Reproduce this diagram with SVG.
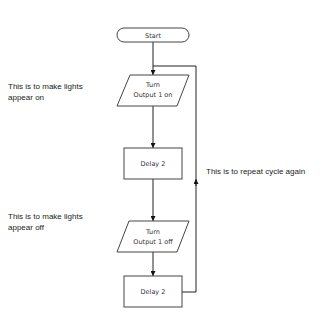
<svg xmlns="http://www.w3.org/2000/svg" width="329" height="314" viewBox="0 0 329 314">
<style>
.shape{fill:#fff;stroke:#444;stroke-width:1}
.conn{fill:none;stroke:#222;stroke-width:1}
.lbl{font-family:"DejaVu Sans",sans-serif;font-size:6.5px;fill:#333;text-anchor:middle}
.note{font-family:"Liberation Sans",Arial,sans-serif;font-size:8px;fill:#222}
</style>
<defs>
<marker id="arr" viewBox="0 0 8 8" refX="8" refY="4" markerWidth="5" markerHeight="5" orient="auto" markerUnits="userSpaceOnUse">
<path d="M0,0 L8,4 L0,8 z" fill="#111"/>
</marker>
</defs>
<rect width="329" height="314" fill="#fff"/>
<g id="connectors">
<line class="conn" x1="153" y1="42" x2="153" y2="75" marker-end="url(#arr)"/>
<line class="conn" x1="153" y1="106" x2="153" y2="148" marker-end="url(#arr)"/>
<line class="conn" x1="153" y1="179" x2="153" y2="221" marker-end="url(#arr)"/>
<line class="conn" x1="153" y1="252" x2="153" y2="276" marker-end="url(#arr)"/>
<polyline class="conn" points="182,292 196,292 196,180"/>
<line class="conn" x1="196" y1="186" x2="196" y2="179" marker-end="url(#arr)"/>
<polyline class="conn" points="196,182 196,66 153,66"/>
</g>
<g id="start">
<rect class="shape" x="117" y="28" width="72" height="14" rx="7" ry="7"/>
<text class="lbl" x="153" y="37.5">Start</text>
</g>
<g id="output-on">
<polygon class="shape" points="130,75 189,75 177,106 117,106"/>
<text class="lbl" x="153" y="87">Turn</text>
<text class="lbl" x="153" y="97">Output 1 on</text>
</g>
<g id="delay1">
<rect class="shape" x="124" y="148" width="58" height="31"/>
<text class="lbl" x="153" y="166">Delay 2</text>
</g>
<g id="output-off">
<polygon class="shape" points="129,221 189,221 177,252 117,252"/>
<text class="lbl" x="153" y="234">Turn</text>
<text class="lbl" x="153" y="244">Output 1 off</text>
</g>
<g id="delay2">
<rect class="shape" x="124" y="276" width="58" height="31"/>
<text class="lbl" x="153" y="294">Delay 2</text>
</g>
<g id="notes">
<text class="note" x="8" y="89">This is to make lights</text>
<text class="note" x="8" y="100">appear on</text>
<text class="note" x="8" y="219">This is to make lights</text>
<text class="note" x="8" y="230">appear off</text>
<text class="note" x="206" y="174">This is to repeat cycle again</text>
</g>
</svg>
